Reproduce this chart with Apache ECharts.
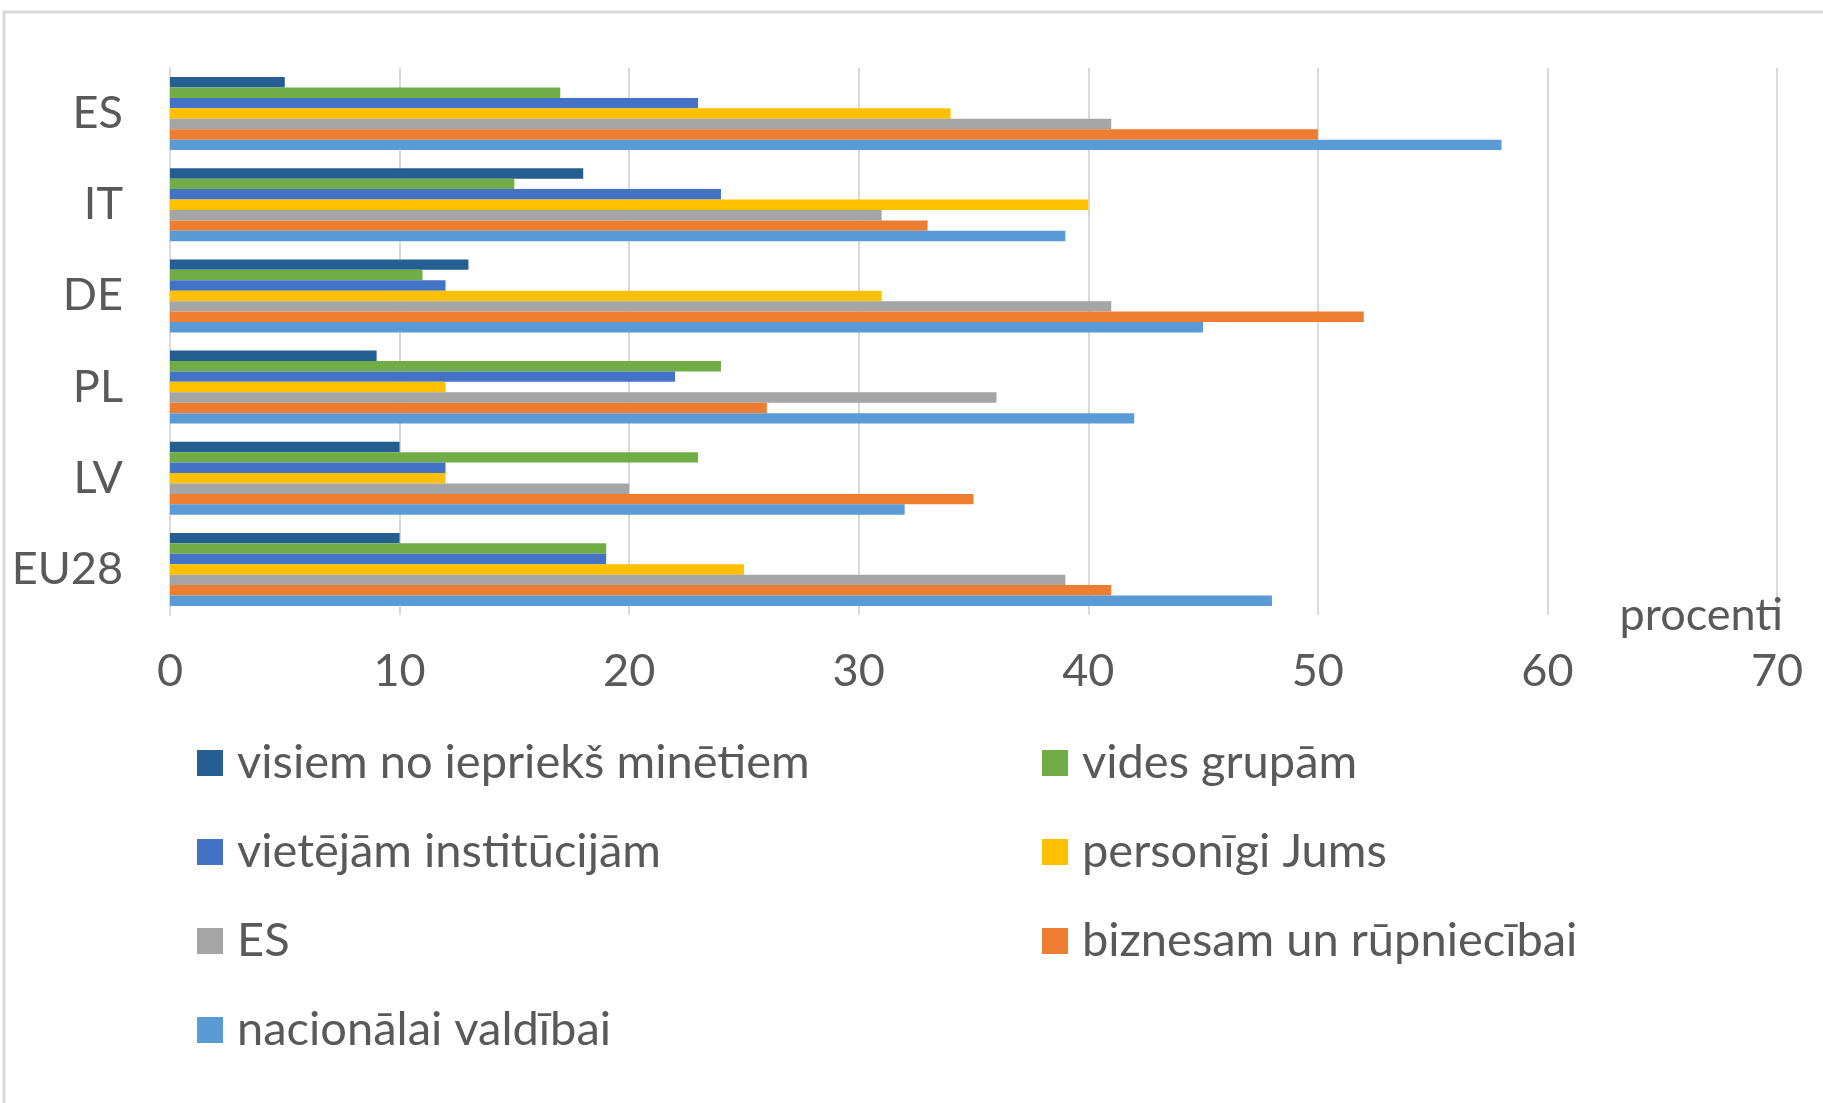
<!DOCTYPE html>
<html>
<head>
<meta charset="utf-8">
<title>Chart</title>
<script src="https://cdn.jsdelivr.net/npm/echarts@6/dist/echarts.min.js"></script>
<style>
  html, body { margin: 0; padding: 0; background: #fff; }
  #chart { width: 1823px; height: 1103px; }
</style>
</head>
<body>
<div id="chart"></div>
<script type="text/javascript">
    // categories top -> bottom
    var countries = ['ES', 'IT', 'DE', 'PL', 'LV', 'EU28'];
    var xTicks = [0, 10, 20, 30, 40, 50, 60, 70];

    var seriesNames = [
        'visiem no iepriekš minētiem',
        'vides grupām',
        'vietējām institūcijām',
        'personīgi Jums',
        'ES',
        'biznesam un rūpniecībai',
        'nacionālai valdībai'
    ];
    var colors = ['#255E91', '#70AD47', '#4472C4', '#FFC000', '#A5A5A5', '#ED7D31', '#5B9BD5'];

    // values per series, same order as countries
    var visiem     = [5, 18, 13, 9, 10, 10];
    var videsGrupam = [17, 15, 11, 24, 23, 19];
    var vietejam   = [23, 24, 12, 22, 12, 19];
    var personigi  = [34, 40, 31, 12, 12, 25];
    var esVal      = [41, 31, 41, 36, 20, 39];
    var biznesam   = [50, 33, 52, 26, 35, 41];
    var nacionalai = [58, 39, 45, 42, 32, 48];

    var values = [visiem, videsGrupam, vietejam, personigi, esVal, biznesam, nacionalai];

    var txtColor = '#595959';
    var font = 'Lato, "Liberation Sans", sans-serif';
    var fs = 45;
    var legendFs = 47;

    var series = [];
    for (var i = 0; i < seriesNames.length; i++) {
        series.push({
            name: seriesNames[i],
            type: 'bar',
            data: values[i],
            barGap: '0%',
            barCategoryGap: '20%',
            itemStyle: { color: colors[i] },
            emphasis: { disabled: true }
        });
    }

    var option = {
        animation: false,
        backgroundColor: '#ffffff',
        textStyle: { fontFamily: font },
        grid: { left: 170, right: 46, top: 68, bottom: 488, containLabel: false },
        legend: [
            {
                orient: 'vertical',
                left: 192,
                top: 733,
                itemWidth: 26,
                itemHeight: 26,
                itemGap: 39,
                icon: 'rect',
                selectedMode: false,
                data: [seriesNames[0], seriesNames[2], seriesNames[4], seriesNames[6]],
                textStyle: { color: txtColor, fontSize: legendFs, fontFamily: font, lineHeight: 50, padding: [0, 0, 0, 9] }
            },
            {
                orient: 'vertical',
                left: 1037,
                top: 733,
                itemWidth: 26,
                itemHeight: 26,
                itemGap: 39,
                icon: 'rect',
                selectedMode: false,
                data: [seriesNames[1], seriesNames[3], seriesNames[5]],
                textStyle: { color: txtColor, fontSize: legendFs, fontFamily: font, lineHeight: 50, padding: [0, 0, 0, 9] }
            }
        ],
        xAxis: {
            type: 'value',
            min: xTicks[0],
            max: xTicks[xTicks.length - 1],
            interval: 10,
            name: 'procenti',
            nameLocation: 'end',
            nameGap: 6,
            nameTextStyle: {
                color: txtColor, fontSize: fs, fontFamily: font,
                align: 'right', verticalAlign: 'middle', padding: [30, 0, 0, 0]
            },
            axisLine: { show: false },
            axisTick: { show: false },
            axisLabel: { color: txtColor, fontSize: fs, fontFamily: font, margin: 34 },
            splitLine: { show: true, lineStyle: { color: '#D9D9D9', width: 2 } }
        },
        yAxis: {
            type: 'category',
            data: countries,
            inverse: true,
            axisLine: { show: true, lineStyle: { color: '#D9D9D9', width: 2 } },
            axisTick: { show: false },
            axisLabel: { color: txtColor, fontSize: fs, fontFamily: font, margin: 47 }
        },
        graphic: [
            {
                type: 'rect',
                shape: { x: 4, y: 12, width: 1900, height: 1200 },
                style: { fill: 'none', stroke: '#D9D9D9', lineWidth: 3 },
                silent: true
            }
        ],
        series: series
    };

    var myChart = echarts.init(document.getElementById('chart'));
    myChart.setOption(option);
</script>
</body>
</html>
